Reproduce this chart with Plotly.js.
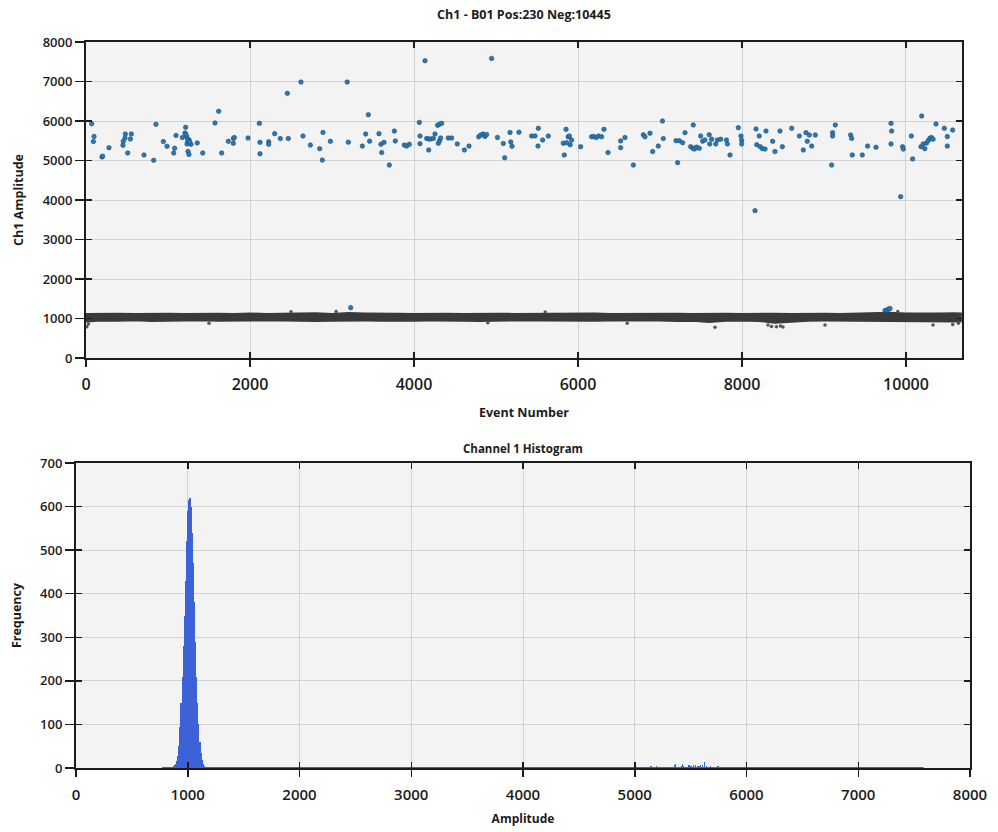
<!DOCTYPE html>
<html><head><meta charset="utf-8">
<script src="https://cdn.plot.ly/plotly-3.0.1.min.js"></script>
<style>html,body{margin:0;padding:0;background:#fff}#chart{width:998px;height:832px}</style>
</head><body><div id="chart"></div>
<script>
// ---- Top chart: positive droplets (event number, amplitude) ----
const posEvent = [
  69,98,90,195,203,280,480,553,476,541,451,455,508,707,825,853,943,988,1098,1069,1081,1215,1207,1228,1175,1256,1232,1280,1244,1256,1240,1265,1220,1357,1423,1573,1618,1654,1736,1797,1797,1809,1976,
  2114,2122,2122,2228,2228,2301,2370,2467,2455,2622,2646,2736,2850,2890,2882,2980,3185,3199,3370,3411,3443,3459,
  3573,3597,3634,3606,3699,3760,3772,3882,3910,3943,4065,4073,4073,4134,4179,4154,4180,4205,4236,4256,4297,4312,4325,4288,4310,4337,4418,4459,4528,4614,4671,4789,4810,4840,4865,4886,4947,
  5018,5089,5106,5171,5180,5195,5280,5435,5476,5516,5512,5569,5638,5821,5833,5854,5862,5880,5895,5905,5922,6032,6166,6190,6220,6250,6288,6317,6366,6520,6520,6573,6675,6797,6817,6878,6911,6979,
  7030,7040,7195,7235,7276,7215,7305,7374,7400,7420,7445,7479,7406,7496,7520,7548,7600,7606,7630,7680,7700,7740,7810,7822,7854,7955,7988,7996,7996,8159,8171,8210,8180,8222,8250,8281,8293,8374,8402,8463,8492,8606,8699,8748,8780,8796,8821,8850,8894,
  9093,9105,9105,9138,9325,9337,9345,9467,9532,9634,9817,9825,9817,9935,9959,9967,10065,10081,10191,10183,10210,10230,10250,10270,10290,10310,10330,10366,10467,10504,10504,10569,
  3228,9745,9764,9785,9805
];
const posAmp = [
  5930,5610,5480,5090,5110,5325,5670,5670,5570,5545,5385,5485,5190,5140,5005,5915,5480,5360,5635,5190,5310,5840,5695,5595,5580,5525,5420,5410,5230,5155,5500,5470,5660,5445,5190,5950,6245,5190,5485,5560,5435,5580,5570,
  5940,5460,5170,5475,5410,5680,5555,5555,6700,6985,5620,5390,5300,5710,5010,5485,6985,5465,5365,5670,6160,5490,
  5680,5410,5460,5200,4885,5745,5495,5390,5365,5410,5965,5620,5425,7525,5265,5560,5545,5545,5560,5670,5435,5500,5570,5890,5920,5940,5570,5570,5420,5265,5365,5600,5640,5670,5610,5660,7585,
  5585,5430,5070,5710,5470,5360,5715,5620,5620,5815,5365,5520,5620,5435,5140,5790,5450,5600,5620,5400,5520,5350,5600,5610,5580,5620,5600,5790,5200,5495,5325,5580,4885,5650,5600,5690,5225,5365,
  6000,5555,5500,5500,5450,4945,5705,5350,5310,5290,5340,5310,5900,5620,5490,5520,5650,5420,5540,5420,5520,5540,5520,5420,5140,5830,5620,5515,5420,3730,5800,5620,5400,5350,5300,5290,5745,5485,5225,5745,5350,5815,5620,5265,5705,5485,5645,5365,5645,
  4885,5705,5620,5900,5645,5560,5140,5140,5365,5335,5940,5745,5420,4085,5350,5290,5620,5040,6125,5350,5420,5300,5440,5500,5560,5580,5540,5925,5815,5605,5365,5770,
  1275,1200,1215,1235,1255
];

// ---- Top chart: negative droplet band (lower / upper amplitude read every 200 events) ----
const negEvent = [0,200,400,600,800,1000,1200,1400,1600,1800,2000,2200,2400,2600,2800,3000,3200,3400,3600,3800,4000,4200,4400,4600,4800,5000,5200,5400,5600,5800,6000,6200,6400,6600,6800,7000,7200,7400,7600,7800,8000,8200,8400,8600,8800,9000,9200,9400,9600,9800,10000,10200,10400,10600,10680];
const negLow = [930,955,950,960,945,955,950,960,950,945,955,960,950,955,945,950,960,955,950,945,950,955,960,950,945,955,950,960,955,950,945,950,955,960,950,955,945,950,920,950,955,945,900,930,950,955,950,945,955,950,940,930,920,930,935];
const negHigh = [1110,1120,1115,1110,1120,1115,1110,1120,1115,1110,1120,1110,1115,1120,1125,1110,1130,1120,1110,1115,1110,1120,1115,1110,1120,1115,1110,1115,1120,1110,1115,1120,1110,1115,1110,1120,1115,1110,1120,1115,1110,1120,1115,1110,1120,1115,1110,1120,1130,1140,1120,1115,1120,1125,1120];
// scattered negative droplets outside the dense band
const negOutEvent = [10,30,1500,3050,4900,6600,7671,8317,8360,8420,8470,8500,9012,10330,10570,10640,2500,5600,9900];
const negOutAmp = [790,860,880,1175,890,880,777,835,800,790,810,785,835,835,850,880,1170,1165,1175];

// ---- Bottom chart: histogram of amplitudes (bins of 10) ----
const histAmp = [770,780,790,800,810,820,830,840,850,860,870,880,890,900,910,920,930,940,950,960,970,980,990,1000,1010,1020,1030,1040,1050,1060,1070,1080,1090,1100,1110,1120,1130,1140,1150,1160,1170];
const histFreq = [1,1,1,1,1,1,1,2,2,3,4,6,10,16,28,50,95,150,210,280,350,430,520,590,615,620,600,540,470,380,290,210,150,100,60,35,18,9,4,2,1];

const topXTicks = [0,2000,4000,6000,8000,10000];
const topXLabels = ['0','2000','4000','6000','8000','10000'];
const topYTicks = [0,1000,2000,3000,4000,5000,6000,7000,8000];
const botXTicks = [0,1000,2000,3000,4000,5000,6000,7000,8000];
const botYTicks = [0,100,200,300,400,500,600,700];

const chartTitle = 'Ch1 - B01 Pos:230 Neg:10445';
const histTitle = 'Channel 1 Histogram';

const FONT = '"Open Sans", "Noto Sans", sans-serif';
const ink = '#1c1c1c';
const bandCol = '#3a3a3a';
const posCol = '#2a78b4';
const histCol = '#3d62d8';

const traces = [
  {type:'scatter', mode:'lines', x:negEvent, y:negLow, line:{color:bandCol, width:2.5}, xaxis:'x', yaxis:'y', hoverinfo:'skip', showlegend:false},
  {type:'scatter', mode:'lines', x:negEvent, y:negHigh, fill:'tonexty', fillcolor:bandCol, line:{color:bandCol, width:2.5}, xaxis:'x', yaxis:'y', hoverinfo:'skip', showlegend:false},
  {type:'scatter', mode:'markers', x:negOutEvent, y:negOutAmp, marker:{color:'#555', size:3.5}, xaxis:'x', yaxis:'y', showlegend:false},
  {type:'scatter', mode:'markers', x:posEvent, y:posAmp, marker:{color:posCol, size:4.5, line:{width:0.6, color:'#1f4f78'}}, xaxis:'x', yaxis:'y', showlegend:false},
  // bottom
  {type:'bar', x:histAmp, y:histFreq, width:10, marker:{color:histCol, line:{width:0}}, xaxis:'x2', yaxis:'y2', showlegend:false},
  {type:'histogram', x:posAmp.filter(v => v > 3000), xbins:{start:3000, end:7700, size:10}, marker:{color:histCol, line:{width:0}}, xaxis:'x2', yaxis:'y2', showlegend:false},
  {type:'scatter', mode:'lines', x:[histAmp[0], Math.max(...posAmp)], y:[0,0], line:{color:histCol, width:2}, xaxis:'x2', yaxis:'y2', hoverinfo:'skip', showlegend:false},
  // empty traces to activate tick-overlay axes
  {type:'scatter', x:[], y:[], xaxis:'x3', yaxis:'y', showlegend:false},
  {type:'scatter', x:[], y:[], xaxis:'x', yaxis:'y3', showlegend:false},
  {type:'scatter', x:[], y:[], xaxis:'x4', yaxis:'y2', showlegend:false},
  {type:'scatter', x:[], y:[], xaxis:'x2', yaxis:'y4', showlegend:false}
];

const baseAxis = {
  showline:true, linecolor:ink, linewidth:2, mirror:true,
  ticks:'outside', ticklen:7, tickwidth:1.5, tickcolor:ink,
  showgrid:true, gridcolor:'#d2d2d2', gridwidth:1, zeroline:false, fixedrange:true
};
const overlayAxis = (over, anchor, range, vals) => ({
  overlaying:over, anchor:anchor, range:range, tickmode:'array', tickvals:vals,
  ticks:'inside', ticklen:6, tickwidth:1.5, tickcolor:ink, mirror:'ticks',
  showline:true, linecolor:ink, linewidth:2, showgrid:false, showticklabels:false, zeroline:false
});

const layout = {
  width:998, height:832,
  margin:{l:76, r:28, t:42, b:64},
  paper_bgcolor:'#ffffff', plot_bgcolor:'#f3f3f3',
  font:{family:FONT, color:ink},
  bargap:0, barmode:'overlay',
  title:{text:chartTitle, x:0.525, xref:'container', xanchor:'center', y:1-15/832, yref:'container', yanchor:'middle',
         font:{family:FONT, size:12.5, weight:700, color:ink}},
  xaxis:Object.assign({}, baseAxis, {
    domain:[10/894, 886/894], anchor:'y', range:[0,10683], tickmode:'array', tickvals:topXTicks, ticktext:topXLabels,
    ticklabelstandoff:4,
    tickfont:{family:FONT, size:16, weight:600, color:ink},
    title:{text:'Event Number', standoff:14, font:{family:FONT, size:12.5, weight:700, color:ink}}
  }),
  yaxis:Object.assign({}, baseAxis, {
    domain:[410/726, 1], anchor:'x', range:[0,8000], tickmode:'array', tickvals:topYTicks, ticklen:9,
    tickfont:{family:FONT, size:13, weight:600, color:ink},
    title:{text:'Ch1 Amplitude', standoff:16, font:{family:FONT, size:12.5, weight:700, color:ink}}
  }),
  xaxis2:Object.assign({}, baseAxis, {
    domain:[0,1], anchor:'y2', range:[0,8000], tickmode:'array', tickvals:botXTicks,
    ticklabelstandoff:5,
    tickfont:{family:FONT, size:15, weight:600, color:ink},
    title:{text:'Amplitude', standoff:12, font:{family:FONT, size:12, weight:700, color:ink}}
  }),
  yaxis2:Object.assign({}, baseAxis, {
    domain:[0, 305/726], anchor:'x2', range:[0,700], tickmode:'array', tickvals:botYTicks, ticklen:9,
    tickfont:{family:FONT, size:13, weight:600, color:ink},
    title:{text:'Frequency', standoff:16, font:{family:FONT, size:12.5, weight:700, color:ink}}
  }),
  xaxis3:overlayAxis('x','y',[0,10683],topXTicks),
  yaxis3:overlayAxis('y','x',[0,8000],topYTicks),
  xaxis4:overlayAxis('x2','y2',[0,8000],botXTicks),
  yaxis4:overlayAxis('y2','x2',[0,700],botYTicks),
  annotations:[
    {text:histTitle, xref:'paper', yref:'paper', x:0.5, y:(768-448)/726, xanchor:'center', yanchor:'middle',
     showarrow:false, font:{family:FONT, size:11.5, weight:700, color:ink}}
  ]
};

Plotly.newPlot('chart', traces, layout, {staticPlot:true, displayModeBar:false});
</script>
</body></html>
